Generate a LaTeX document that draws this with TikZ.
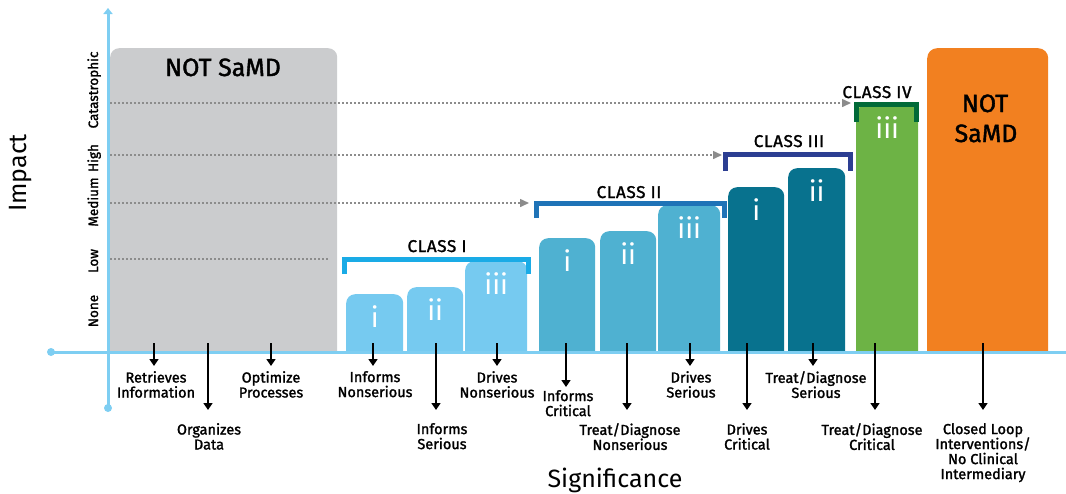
\documentclass[tikz,border=0pt]{standalone}
\usepackage{fontspec}
\setmainfont{Fira Sans}[FakeBold=1.6]
\newfontfamily\plainfont{Fira Sans}
\usetikzlibrary{arrows.meta}

\definecolor{axisblue}{HTML}{7ECEF2}
\definecolor{notgray}{HTML}{CBCCCE}
\definecolor{guidegray}{HTML}{8C8C8C}
\definecolor{barI}{HTML}{76CAF0}
\definecolor{barII}{HTML}{4FB1D1}
\definecolor{barIII}{HTML}{08728E}
\definecolor{barIV}{HTML}{6DB345}
\definecolor{brI}{HTML}{1AABE6}
\definecolor{brII}{HTML}{1F73B7}
\definecolor{brIII}{HTML}{2C3E92}
\definecolor{brIV}{HTML}{016A38}
\definecolor{notorange}{HTML}{F28020}

% a column standing on the significance axis: name, left x, right x, top y, colour
\newcommand\samdbar[5]{%
  \node[barbox, fill=#5, minimum width={#3-#2}, minimum height={372-#4}, anchor=north west] (#1) at (#2,#4) {};}
% an outcome label with its arrow: name, arrow x, arrow tip y, label x, label top y, text
\newcommand\outcome[6]{%
  \coordinate (#1-from) at (#2,343);
  \coordinate (#1-tip) at (#2,#3);
  \node[lbl] (#1) at (#4,#5) {#6};
  \draw[down] (#1-from) -- (#1-tip);}

\begin{document}
\begin{tikzpicture}[x=1pt,y=-1pt,
  barbox/.style={rounded corners=9pt, inner sep=0pt, draw=none},
  roman/.style={text=white, font=\plainfont\fontsize{28}{28}\selectfont, inner sep=0pt, anchor=north, yshift=-11pt},
  lbl/.style={font=\fontsize{14.5}{15}\selectfont, align=center, anchor=north, inner sep=0pt},
  down/.style={line width=1.5pt, -{Triangle[length=7pt,width=9pt]}},
  guide/.style={guidegray, line width=1.5pt, dash pattern=on 1.5pt off 2.5pt, -{Triangle[length=9pt,width=8pt]}},
  level/.style={guidegray, line width=1.5pt, dash pattern=on 1.5pt off 2.5pt},
  bracket/.style={line width=5pt, line join=miter, line cap=butt},
  classlbl/.style={font=\fontsize{17}{17}\addfontfeature{LetterSpace=4}, anchor=base, inner sep=0pt},
  ylab/.style={font=\fontsize{13.5}{14}\selectfont, rotate=90, anchor=base, inner sep=0pt},
  axis/.style={axisblue, line width=3pt},
  big/.style={font=\fontsize{25}{30}\selectfont, inner sep=0pt, align=center},
  title/.style={font=\plainfont\fontsize{25}{30}\selectfont, inner sep=0pt, anchor=base}]
\useasboundingbox (0,0) rectangle (1066,493);

% columns, cut off at the axis
\begin{scope}
  \clip (0,0) rectangle (1066,352);
  \samdbar{notleft}{110}{337}{48}{notgray}
  \samdbar{Ia}{346}{403}{294}{barI}
  \samdbar{Ib}{407}{463}{287}{barI}
  \samdbar{Ic}{465}{527}{261}{barI}
  \samdbar{IIa}{539}{595}{238}{barII}
  \samdbar{IIb}{600}{656}{231}{barII}
  \samdbar{IIc}{658}{720}{205}{barII}
  \samdbar{IIIa}{728}{784}{187}{barIII}
  \samdbar{IIIb}{788}{845}{168}{barIII}
  \samdbar{IVc}{856}{918}{105}{barIV}
  \node[barbox, rounded corners=10pt, fill=notorange, minimum width=121, minimum height=324, anchor=north west] (notright) at (927,48) {};
\end{scope}

% roman numerals on the columns
\node[roman] at (Ia.north) {i};
\node[roman] at (Ib.north) {ii};
\node[roman] at (Ic.north) {iii};
\node[roman] at (IIa.north) {i};
\node[roman] at (IIb.north) {ii};
\node[roman] at (IIc.north) {iii};
\node[roman] at (IIIa.north) {i};
\node[roman] at (IIIb.north) {ii};
\node[roman] at (IVc.north) {iii};

% impact levels
\coordinate (lowL) at (110,259);  \coordinate (lowR) at (330,259);
\coordinate (medL) at (110,203);  \coordinate (medR) at (529,203);
\coordinate (highL) at (110,155); \coordinate (highR) at (722,155);
\coordinate (catL) at (110,103);  \coordinate (catR) at (851,103);
\draw[level] (lowL) -- (lowR);
\draw[guide] (medL) -- (medR);
\draw[guide] (highL) -- (highR);
\draw[guide] (catL) -- (catR);

% class brackets
\draw[bracket, brI] (344.5,274) -- (344.5,259) -- (528.5,259) -- (528.5,274);
\draw[bracket, brII] (536.5,218) -- (536.5,203.5) -- (724.5,203.5) -- (724.5,218);
\draw[bracket, brIII] (725.5,171) -- (725.5,154.5) -- (850.5,154.5) -- (850.5,171);
\draw[bracket, brIV] (856.5,122) -- (856.5,104.5) -- (916.5,104.5) -- (916.5,122);
\node[classlbl] (clI) at (437,252) {CLASS I};
\node[classlbl] (clII) at (629,198) {CLASS II};
\node[classlbl] (clIII) at (789,147) {CLASS III};
\node[classlbl] (clIV) at (877,98) {CLASS IV};

% NOT SaMD texts
\node[big, anchor=base] (notlefttext) at (223,76) {NOT SaMD};
\node[big, anchor=base] (notrighttext) at (985,112) {NOT};
\node[big, anchor=base] (notrighttext2) at (986,142) {SaMD};

% axes
\coordinate (vbot) at (108,408);
\coordinate (vtop) at (108,8);
\coordinate (hleft) at (51,352);
\coordinate (hright) at (1066,352);
\draw[axis, -{Triangle[length=6pt,width=9pt]}] (vbot) -- (vtop);
\draw[axis] (hleft) -- (hright);
\fill[axisblue] (vbot) circle[radius=4pt];
\fill[axisblue] (hleft) circle[radius=4pt];

% axis titles
\node[title, rotate=90] (impact) at (27,173) {Impact};
\node[title] (significance) at (615,487) {Significance};
\node[ylab] at (98,311) {None};
\node[ylab] at (98,261) {Low};
\node[ylab] at (98,202) {Medium};
\node[ylab] at (98,158) {High};
\node[ylab] at (98,90) {Catastrophic};

% outcomes along the significance axis
\outcome{ret}{154}{366}{156}{371}{Retrieves\\Information}
\outcome{org}{208}{410}{209}{423}{Organizes\\Data}
\outcome{opt}{271}{366}{271}{371}{Optimize\\Processes}
\outcome{inns}{373}{366}{375}{371}{Informs\\Nonserious}
\outcome{ins}{436}{410}{442}{423}{Informs\\Serious}
\outcome{drns}{497}{366}{497}{371}{Drives\\Nonserious}
\outcome{inc}{566}{387}{568}{390}{Informs\\Critical}
\outcome{tdns}{627}{410}{630}{423}{Treat/Diagnose\\Nonserious}
\outcome{drs}{690}{366}{691}{371}{Drives\\Serious}
\outcome{drc}{747}{410}{747}{423}{Drives\\Critical}
\outcome{tds}{813}{366}{816}{371}{Treat/Diagnose\\Serious}
\outcome{tdc}{875}{410}{872}{423}{Treat/Diagnose\\Critical}
\outcome{cl}{983}{410}{983}{423}{Closed Loop\\Interventions/\\No Clinical\\Intermediary}
\end{tikzpicture}
\end{document}
